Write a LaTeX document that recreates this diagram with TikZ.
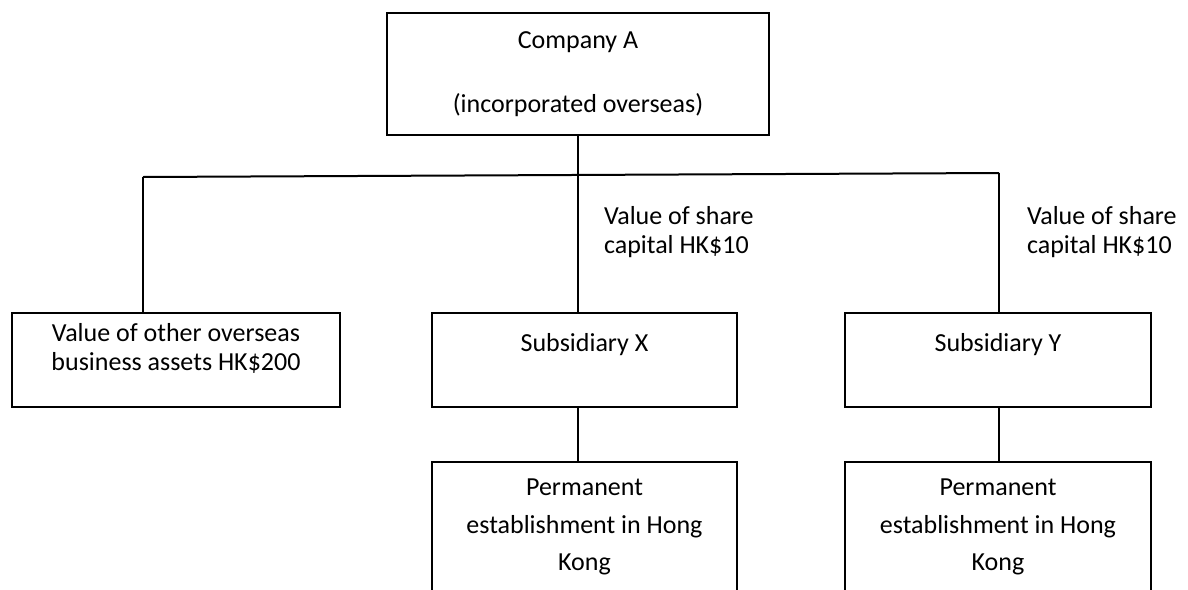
\documentclass[tikz,border=0pt]{standalone}
\usepackage{fontspec}
\setmainfont{Carlito}
\tikzset{
  box/.style={draw, line width=1pt, inner sep=0pt},
  lbl/.style={inner sep=0pt, align=center, font=\fontsize{13}{14.5}\selectfont}
}
\begin{document}
\begin{tikzpicture}[x=0.5pt,y=-0.5pt,line width=1pt]
\useasboundingbox (0,0) rectangle (1188,589);
\clip (0,0) rectangle (1188,589);

\node[box, lbl, minimum width=191pt, minimum height=61pt] (compA) at (578,74)
  {Company A\\[17.5pt](incorporated overseas)};

\node[box, minimum width=164pt, minimum height=47pt,
  label={[lbl, anchor=north, yshift=-5.1pt]north:Value of other overseas\\business assets HK\$200}]
  (other) at (176,360) {};
\node[box, minimum width=152.5pt, minimum height=47pt,
  label={[lbl, anchor=north, yshift=-10.1pt]north:Subsidiary X}]
  (subX) at (584.5,360) {};
\node[box, minimum width=153pt, minimum height=47pt,
  label={[lbl, anchor=north, yshift=-10.1pt]north:Subsidiary Y}]
  (subY) at (998,360) {};

\node[box, anchor=north, minimum width=152.5pt, minimum height=75pt,
  label={[lbl, font=\fontsize{13}{18.75}\selectfont, anchor=north, yshift=-8.6pt]north:Permanent\\establishment in Hong\\Kong}]
  (peX) at (584.5,461) {};
\node[box, anchor=north, minimum width=153pt, minimum height=75pt,
  label={[lbl, font=\fontsize{13}{18.75}\selectfont, anchor=north, yshift=-8.6pt]north:Permanent\\establishment in Hong\\Kong}]
  (peY) at (998,461) {};

\node[lbl, align=left, anchor=north west] (shareX) at (603,205) {Value of share\\capital HK\$10};
\node[lbl, align=left, anchor=north west] (shareY) at (1026,205) {Value of share\\capital HK\$10};

\coordinate (jl) at (143,177);
\coordinate (jr) at (999,173);
\draw (jl) -- (jr);
\draw (compA.south) -- (compA.south |- subX.north);
\draw (jl) -- (jl |- other.north);
\draw (jr) -- (jr |- subY.north);
\draw (compA.south |- subX.south) -- (compA.south |- peX.north);
\draw (jr |- subY.south) -- (jr |- peY.north);
\end{tikzpicture}
\end{document}
